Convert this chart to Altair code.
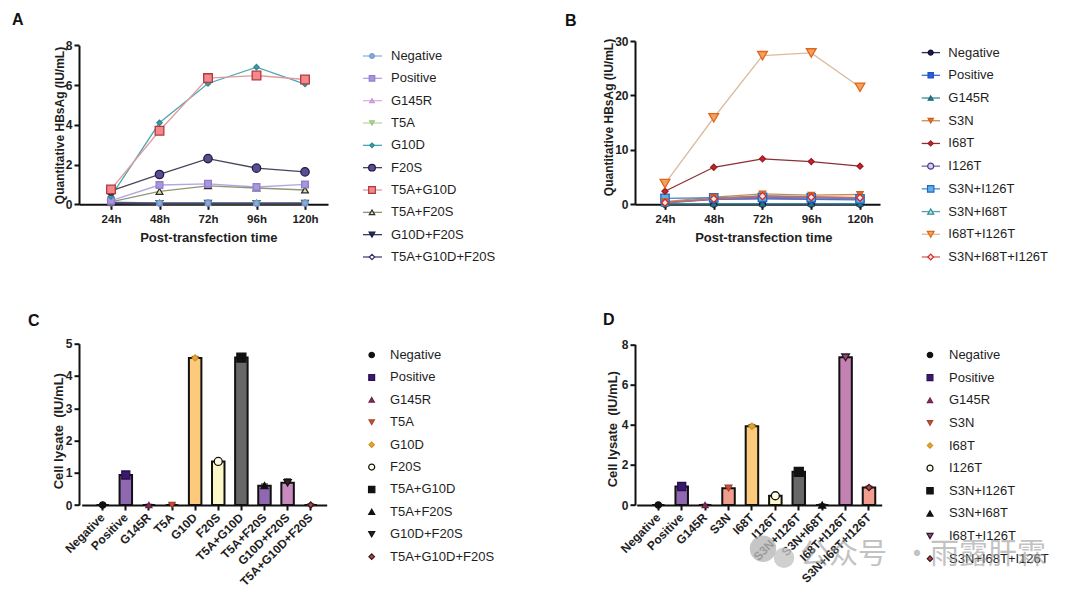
import altair as alt
import pandas as pd

FONT = "Liberation Sans"
INK = "#1e1e1e"

hours = [24, 48, 72, 96, 120]

# ---------------- Panel A data ----------------
a_names = ["Negative", "Positive", "G145R", "T5A", "G10D", "F20S",
           "T5A+G10D", "T5A+F20S", "G10D+F20S", "T5A+G10D+F20S"]
a_negative = [0.12, 0.06, 0.06, 0.05, 0.06]
a_positive = [0.18, 0.97, 1.03, 0.87, 1.00]
a_g145r = [0.06, 0.05, 0.05, 0.05, 0.05]
a_t5a = [0.05, 0.04, 0.04, 0.04, 0.04]
a_g10d = [0.40, 4.10, 6.08, 6.90, 6.05]
a_f20s = [0.67, 1.50, 2.30, 1.82, 1.63]
a_t5a_g10d = [0.75, 3.70, 6.35, 6.48, 6.28]
a_t5a_f20s = [0.12, 0.65, 0.93, 0.82, 0.72]
a_g10d_f20s = [0.05, 0.04, 0.05, 0.04, 0.05]
a_t5a_g10d_f20s = [0.08, 0.06, 0.06, 0.06, 0.06]
a_values = [a_negative, a_positive, a_g145r, a_t5a, a_g10d, a_f20s,
            a_t5a_g10d, a_t5a_f20s, a_g10d_f20s, a_t5a_g10d_f20s]

a_shape = ["circle", "square", "triangle-up", "triangle-down", "diamond", "circle",
           "square", "triangle-up", "triangle-down", "diamond"]
a_fill = ["#86aee0", "#a995dd", "#dfaee6", "#b4da98", "#3f9eab", "#5d4c92",
          "#f3898a", "#dbe6a6", "#22305f", "#ffffff"]
a_stroke = ["#6f97cf", "#917dcc", "#c997d6", "#98c47c", "#2e8895", "#231a45",
            "#b23a3f", "#2e2e2e", "#121a38", "#3a2d6e"]
a_line = ["#8fb2e0", "#b3a6e2", "#dcb2e4", "#b8d8a0", "#4fa7b2", "#4a4458",
          "#e39a9c", "#8f9778", "#33405e", "#4b4470"]
a_size = [30, 45, 30, 30, 28, 70, 75, 45, 45, 35]
a_leg_size = [22, 30, 22, 22, 22, 45, 45, 30, 32, 28]
a_z = [4, 6, 2, 3, 7, 8, 9, 5, 1, 0]

# ---------------- Panel B data ----------------
b_names = ["Negative", "Positive", "G145R", "S3N", "I68T", "I126T",
           "S3N+I126T", "S3N+I68T", "I68T+I126T", "S3N+I68T+I126T"]
b_negative = [0.05, 0.05, 0.05, 0.05, 0.05]
b_positive = [0.40, 0.90, 1.00, 0.90, 0.80]
b_g145r = [0.10, 0.10, 0.10, 0.10, 0.10]
b_s3n = [0.50, 1.30, 1.90, 1.70, 1.80]
b_i68t = [2.40, 6.80, 8.35, 7.85, 7.00]
b_i126t = [0.20, 0.90, 1.10, 1.00, 0.90]
b_s3n_i126t = [1.10, 1.20, 1.30, 1.20, 1.00]
b_s3n_i68t = [0.30, 1.10, 1.60, 1.40, 1.20]
b_i68t_i126t = [3.80, 15.90, 27.30, 27.80, 21.50]
b_s3n_i68t_i126t = [0.30, 1.00, 1.50, 1.30, 1.20]
b_values = [b_negative, b_positive, b_g145r, b_s3n, b_i68t, b_i126t,
            b_s3n_i126t, b_s3n_i68t, b_i68t_i126t, b_s3n_i68t_i126t]

b_shape = ["circle", "square", "triangle-up", "triangle-down", "diamond", "circle",
           "square", "triangle-up", "triangle-down", "diamond"]
b_fill = ["#1c1c4a", "#2b5fd9", "#2b7e8a", "#e0782e", "#c0262c", "#d8ccf0",
          "#5fb0e8", "#c6e6ea", "#f6a060", "#fde4e4"]
b_stroke = ["#111133", "#1f4fc0", "#206a75", "#c8601e", "#a01a20", "#4d3a86",
            "#1f68c0", "#2a8a98", "#e0661a", "#d42828"]
b_line = ["#2a2a5a", "#3d6ad8", "#3a8a95", "#d08a50", "#8a2f35", "#7a68a8",
          "#4a8ad0", "#5aa0aa", "#dbbb9c", "#d86060"]
b_size = [35, 40, 30, 40, 36, 50, 70, 55, 95, 50]
b_leg_size = [25, 28, 25, 28, 26, 36, 40, 36, 45, 32]
b_z = [0, 3, 1, 6, 8, 2, 5, 4, 9, 7]

# ---------------- Panel C data ----------------
c_names = ["Negative", "Positive", "G145R", "T5A", "G10D", "F20S",
           "T5A+G10D", "T5A+F20S", "G10D+F20S", "T5A+G10D+F20S"]
c_values = [0.0, 0.93, 0.0, 0.0, 4.56, 1.35, 4.57, 0.60, 0.69, 0.0]
c_errors = [0.02, 0.06, 0.02, 0.05, 0.04, 0.05, 0.08, 0.05, 0.12, 0.03]
c_bar_fill = ["#8e68b0", "#8e68b0", "#8a3060", "#c8553d", "#fdca7c", "#fdf8c8",
              "#676767", "#8e68b0", "#c98bbf", "#c04050"]
c_shape = ["circle", "square", "triangle-up", "triangle-down", "diamond", "circle",
           "square", "triangle-up", "triangle-down", "diamond"]
c_fill = ["#111111", "#3b1a6e", "#8a3060", "#c8553d", "#e8a838", "#fffde8",
          "#111111", "#111111", "#3a2028", "#c04050"]
c_stroke = ["#111111", "#2a1050", "#6a2048", "#a8402d", "#d09020", "#111111",
            "#111111", "#111111", "#111111", "#3a1a20"]
c_size = [40, 64, 35, 35, 36, 64, 81, 49, 55, 36]
c_leg_size = [30, 34, 28, 28, 28, 36, 40, 36, 36, 30]

# ---------------- Panel D data ----------------
d_names = ["Negative", "Positive", "G145R", "S3N", "I68T", "I126T",
           "S3N+I126T", "S3N+I68T", "I68T+I126T", "S3N+I68T+I126T"]
d_values = [0.0, 0.92, 0.0, 0.84, 3.92, 0.46, 1.65, 0.0, 7.35, 0.87]
d_errors = [0.02, 0.08, 0.03, 0.10, 0.08, 0.06, 0.12, 0.05, 0.12, 0.06]
d_bar_fill = ["#8e68b0", "#8e68b0", "#8a3060", "#f29e8e", "#fdca7c", "#fdf8c8",
              "#676767", "#111111", "#c382b2", "#f29e8e"]
d_shape = ["circle", "square", "triangle-up", "triangle-down", "diamond", "circle",
           "square", "triangle-up", "triangle-down", "diamond"]
d_fill = ["#111111", "#3b1a6e", "#8a3060", "#c8553d", "#e8a838", "#fffde8",
          "#111111", "#111111", "#9a4a70", "#c04050"]
d_stroke = ["#111111", "#2a1050", "#6a2048", "#a8402d", "#d09020", "#111111",
            "#111111", "#111111", "#2a1a2a", "#3a1a20"]
d_size = [40, 64, 35, 45, 36, 64, 81, 49, 60, 40]
d_leg_size = [30, 34, 28, 28, 28, 36, 40, 36, 36, 30]


def series_frame(names, values, shapes, fills, strokes, lines, sizes, z):
    rows = []
    for i, name in enumerate(names):
        for h, v in zip(hours, values[i]):
            rows.append({"series": name, "hour": h, "value": v, "shape": shapes[i],
                         "fill": fills[i], "stroke": strokes[i], "line": lines[i],
                         "size": sizes[i], "z": z[i]})
    return pd.DataFrame(rows)


def legend_frame(names, shapes, fills, strokes, lines, sizes):
    return pd.DataFrame({"series": names, "idx": list(range(len(names))),
                         "shape": shapes, "fill": fills, "stroke": strokes,
                         "line": lines, "size": sizes})


def legend_layers(ldf, yrange, sym_x, lab_x, stub=None):
    ly = alt.Y("idx:Q", scale=alt.Scale(domain=[0, 9], range=yrange, nice=False, zero=False),
               axis=None)
    layers = []
    if stub is not None:
        layers.append(alt.Chart(ldf).mark_rule(strokeWidth=1.3).encode(
            x=alt.value(stub[0]), x2=alt.value(stub[1]), y=ly,
            stroke=alt.Stroke("line:N", scale=None)))
    layers.append(alt.Chart(ldf).mark_point(filled=True, opacity=1, strokeWidth=1.2).encode(
        x=alt.value(sym_x), y=ly,
        shape=alt.Shape("shape:N", scale=None),
        fill=alt.Fill("fill:N", scale=None),
        stroke=alt.Stroke("stroke:N", scale=None),
        size=alt.Size("size:Q", scale=None)))
    layers.append(alt.Chart(ldf).mark_text(align="left", baseline="middle", font=FONT,
                                           fontSize=13, color=INK).encode(
        x=alt.value(lab_x), y=ly, text="series:N"))
    return alt.layer(*layers)


def letter_layer(letter, lx, ly):
    return alt.Chart(pd.DataFrame({"t": [letter]})).mark_text(
        align="left", baseline="alphabetic", font=FONT, fontSize=16,
        fontWeight="bold", color="#111").encode(
        x=alt.value(lx), y=alt.value(ly), text="t:N")


def line_panel(df, ldf, xdomain, xrange, ydomain, yrange, yticks, ytx, yty, xtx,
               letter, lpos, leg_range, stub, sym_x, lab_x, width, height, extra=()):
    xenc = alt.X("hour:Q", scale=alt.Scale(domain=xdomain, range=xrange, nice=False, zero=False),
                 axis=alt.Axis(values=hours, labelExpr="datum.value + 'h'",
                               title="Post-transfection time", titleX=xtx, titleY=33,
                               titleBaseline="middle", titleAlign="center", labelPadding=4,
                               labelFontSize=11.5))
    yenc = alt.Y("value:Q", scale=alt.Scale(domain=ydomain, range=yrange, nice=False, zero=False),
                 axis=alt.Axis(values=yticks, title="Quantitative HBsAg (IU/mL)",
                               titleX=ytx, titleY=yty, titleAngle=-90, titleBaseline="middle",
                               titleAlign="center", titleFontSize=12, labelPadding=2))
    lines = alt.Chart(df).mark_line(strokeWidth=1.3).encode(
        x=xenc, y=yenc, detail="series:N", stroke=alt.Stroke("line:N", scale=None))
    pts = alt.Chart(df).mark_point(filled=True, opacity=1, strokeWidth=1.3).encode(
        x=xenc, y=yenc,
        shape=alt.Shape("shape:N", scale=None),
        fill=alt.Fill("fill:N", scale=None),
        stroke=alt.Stroke("stroke:N", scale=None),
        size=alt.Size("size:Q", scale=None),
        order=alt.Order("z:Q"))
    main = alt.layer(lines, pts)
    leg = legend_layers(ldf, leg_range, sym_x, lab_x, stub)
    parts = [main, leg, letter_layer(letter, lpos[0], lpos[1])] + list(extra)
    return alt.layer(*parts).resolve_scale(y="independent").properties(width=width, height=height)


def bar_panel(names, vals, errs, bar_fills, shapes, fills, strokes, sizes, leg_sizes,
              xrange, pi, po, align, ydomain, yrange, yticks, ytx, yty,
              letter, lpos, leg_range, sym_x, lab_x, width, height, extra=()):
    df = pd.DataFrame({"name": names, "value": vals,
                       "hi": [v + e for v, e in zip(vals, errs)],
                       "barfill": bar_fills, "shape": shapes, "fill": fills,
                       "stroke": strokes, "size": sizes})
    xenc = alt.X("name:N", sort=names,
                 scale=alt.Scale(type="band", range=xrange, paddingInner=pi,
                                 paddingOuter=po, align=align),
                 axis=alt.Axis(title=None, labelAngle=-45, labelAlign="right",
                               labelBaseline="middle", labelPadding=5, labelFontSize=12))
    yaxis = alt.Axis(values=yticks, title="Cell lysate\u00a0\u00a0(IU/mL)", titleX=ytx, titleY=yty,
                     titleAngle=-90, titleBaseline="middle", titleAlign="center",
                     titleFontSize=13, labelPadding=2)
    yscale = alt.Scale(domain=ydomain, range=yrange, nice=False, zero=True)

    def yenc(field):
        return alt.Y(field, scale=yscale, axis=yaxis)

    bars = alt.Chart(df).mark_bar(stroke="#111", strokeWidth=2).encode(
        x=xenc, y=yenc("value:Q"), fill=alt.Fill("barfill:N", scale=None))
    err = alt.Chart(df).mark_rule(color="#111", strokeWidth=1.5).encode(
        x=xenc, y=yenc("value:Q"), y2="hi:Q")
    caps = alt.Chart(df).mark_tick(color="#111", thickness=1.5, size=7).encode(
        x=xenc, y=yenc("hi:Q"))
    pts = alt.Chart(df).mark_point(filled=True, opacity=1, strokeWidth=1.3).encode(
        x=xenc, y=yenc("value:Q"),
        shape=alt.Shape("shape:N", scale=None),
        fill=alt.Fill("fill:N", scale=None),
        stroke=alt.Stroke("stroke:N", scale=None),
        size=alt.Size("size:Q", scale=None))
    main = alt.layer(bars, err, caps, pts)
    ldf = legend_frame(names, shapes, fills, strokes, strokes, leg_sizes)
    leg = legend_layers(ldf, leg_range, sym_x, lab_x, None)
    parts = [main, leg, letter_layer(letter, lpos[0], lpos[1])] + list(extra)
    return alt.layer(*parts).resolve_scale(y="independent").properties(width=width, height=height)


# invisible anchor fixing the top-left corner of the drawing
anchor = alt.Chart(pd.DataFrame({"a": [0]})).mark_rect(opacity=0).encode(
    x=alt.value(-71), x2=alt.value(-70), y=alt.value(-32.7), y2=alt.value(-31.7))

# watermark (gray, semi-transparent) drawn in panel D
wm = pd.DataFrame({"a": [0]})
wm_logo1 = alt.Chart(wm).mark_point(filled=True, color="#b8b8b8", opacity=0.8, size=700,
                                    shape="circle").encode(x=alt.value(128), y=alt.value(205))
wm_logo2 = alt.Chart(wm).mark_point(filled=True, color="#c4c4c4", opacity=0.8, size=420,
                                    shape="circle").encode(x=alt.value(149), y=alt.value(214))
wm_t1 = alt.Chart(pd.DataFrame({"t": ["公众号"]})).mark_text(
    align="left", baseline="alphabetic", font="Noto Sans CJK SC", fontSize=29,
    color="#9a9a9a", opacity=0.6).encode(x=alt.value(165), y=alt.value(220), text="t:N")
wm_t2 = alt.Chart(pd.DataFrame({"t": ["·"]})).mark_text(
    align="center", baseline="alphabetic", font="Noto Sans CJK SC", fontSize=29,
    color="#9a9a9a", opacity=0.6).encode(x=alt.value(282), y=alt.value(220), text="t:N")
wm_t3 = alt.Chart(pd.DataFrame({"t": ["雨露肝霖"]})).mark_text(
    align="left", baseline="alphabetic", font="Noto Sans CJK SC", fontSize=29,
    color="#9a9a9a", opacity=0.6).encode(x=alt.value(295), y=alt.value(220), text="t:N")

a_df = series_frame(a_names, a_values, a_shape, a_fill, a_stroke, a_line, a_size, a_z)
a_ldf = legend_frame(a_names, a_shape, a_fill, a_stroke, a_line, a_leg_size)
b_df = series_frame(b_names, b_values, b_shape, b_fill, b_stroke, b_line, b_size, b_z)
b_ldf = legend_frame(b_names, b_shape, b_fill, b_stroke, b_line, b_leg_size)

panel_a = line_panel(a_df, a_ldf, [8.165, 131.38], [0, 249], [0, 8], [163.3, 4.3], [0, 2, 4, 6, 8],
                     -20, 84, 129.3, "A", (-67, -15.7), [15, 216], (284, 303), 293, 312,
                     249, 163.3, extra=[anchor])
panel_b = line_panel(b_df, b_ldf, [9.231, 129.846], [0, 245], [0, 30], [163.3, 0], [0, 10, 20, 30],
                     -27, 76, 128.3, "B", (-70, -14.7), [11.6, 216], (286.7, 305), 295.7, 313.3,
                     247, 163.3)
panel_c = bar_panel(c_names, c_values, c_errors, c_bar_fill, c_shape, c_fill, c_stroke, c_size,
                    c_leg_size, [2.7, 247.7], 0.46, 0.53, 0.602, [0, 5], [161.3, 0],
                    [0, 1, 2, 3, 4, 5], -21, 87, "C", (-51, -17.7), [11.3, 213], 292.7, 311,
                    249, 161.3)
panel_d = bar_panel(d_names, d_values, d_errors, d_bar_fill, d_shape, d_fill, d_stroke, d_size,
                    d_leg_size, [1.7, 246.7], 0.466, 0.4656, 0.704, [0, 8], [161.3, 0.6],
                    [0, 2, 4, 6, 8], -23, 85, "D", (-32, -18.7), [11.3, 215], 295, 314,
                    247, 161.3, extra=[wm_logo1, wm_logo2, wm_t1, wm_t2, wm_t3])

chart = alt.concat(panel_a, panel_b, panel_c, panel_d, columns=2,
                   spacing={"row": 138.7, "column": 307}, bounds="flush").configure(
    padding=0, background="white", font=FONT
).configure_view(stroke=None).configure_axis(
    domainColor="#111", domainWidth=2, tickColor="#111", tickWidth=2, tickSize=5, grid=False,
    labelFont=FONT, labelFontWeight="bold", labelFontSize=12, labelColor=INK,
    titleFont=FONT, titleFontWeight="bold", titleFontSize=13, titleColor=INK
)

chart.save("out.html", embed_options={"renderer": "svg", "actions": False})
